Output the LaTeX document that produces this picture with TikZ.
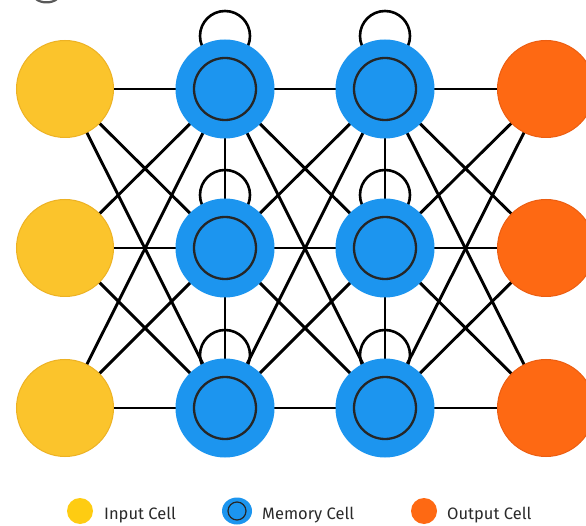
\documentclass[tikz,border=0pt]{standalone}
\usepackage{fontspec}
\setmainfont{Fira Sans}
\usetikzlibrary{shapes.geometric}
\definecolor{inyellow}{HTML}{FBC42C}
\definecolor{inedge}{HTML}{EDB224}
\definecolor{memblue}{HTML}{1C95EF}
\definecolor{outorange}{HTML}{FE6913}
\definecolor{outedge}{HTML}{EC5E12}
\definecolor{legyellow}{HTML}{FECC12}
\definecolor{labelgray}{HTML}{2A2A2A}
\tikzset{
  inputcell/.style={circle, fill=inyellow, draw=inedge, line width=1pt, minimum size=97pt, inner sep=0pt},
  memcell/.style={circle, fill=memblue, minimum size=99pt, inner sep=0pt},
  memcore/.style={circle, draw=black!85, line width=2.3pt, minimum size=62pt, inner sep=0pt},
  outputcell/.style={circle, fill=outorange, draw=outedge, line width=1pt, minimum size=97pt, inner sep=0pt},
  link/.style={line width=2.9pt, black},
  selfloop/.style={line width=2.6pt, black},
  legtext/.style={anchor=base west, inner sep=0pt, font=\fontsize{16.5}{19}\selectfont, text=labelgray},
}
\begin{document}
\begin{tikzpicture}[x=1pt, y=-1pt]
\useasboundingbox (0,0) rectangle (586,526);
\clip (0,0) rectangle (586,526);
\fill[white] (0,0) rectangle (586,526);

% cut-off mark in the upper left corner
\draw[gray!70!black, line width=2.2pt] (36,-1) .. controls (41,3.5) and (52,3.5) .. (57,-1);

% cell centres
\foreach \r/\yy in {1/89, 2/248, 3/408} {
  \coordinate (i\r) at (65,\yy);
  \coordinate (a\r) at (225,\yy);
  \coordinate (b\r) at (385,\yy);
  \coordinate (o\r) at (546,\yy);
}

% fully connected links between neighbouring layers
\foreach \p in {1,2,3} {
  \foreach \q in {1,2,3} {
    \draw[link] (i\p) -- (a\q);
    \draw[link] (a\p) -- (b\q);
    \draw[link] (b\p) -- (o\q);
  }
}
% links within the memory columns
\draw[link] (a1) -- (a2) -- (a3);
\draw[link] (b1) -- (b2) -- (b3);

% self loops above the memory cells
\foreach \c in {a,b} {
  \foreach \r in {1,2,3} {
    \draw[selfloop] ([yshift=53pt]\c\r) circle (25pt);
  }
}

% cells
\foreach \r in {1,2,3} {
  \node[inputcell] (in\r) at (i\r) {};
  \node[memcell] (ma\r) at (a\r) {};
  \node[memcore] at (a\r) {};
  \node[memcell] (mb\r) at (b\r) {};
  \node[memcore] at (b\r) {};
  \node[outputcell] (out\r) at (o\r) {};
}

% legend
\node[circle, fill=legyellow, minimum size=26pt, inner sep=0pt] (kin) at (80,511) {};
\node[legtext] (tin) at (104,519) {Input Cell};
\node[ellipse, fill=memblue, minimum width=30pt, minimum height=27pt, inner sep=0pt] (kmem) at (237,511) {};
\node[circle, draw=black!85, line width=1.2pt, minimum size=18pt, inner sep=0pt] (kcore) at (237,511) {};
\node[legtext] (tmem) at (262,519) {Memory Cell};
\node[circle, fill=outorange, minimum size=26pt, inner sep=0pt] (kout) at (424,511) {};
\node[legtext] (tout) at (447,519) {Output Cell};
\end{tikzpicture}
\end{document}
